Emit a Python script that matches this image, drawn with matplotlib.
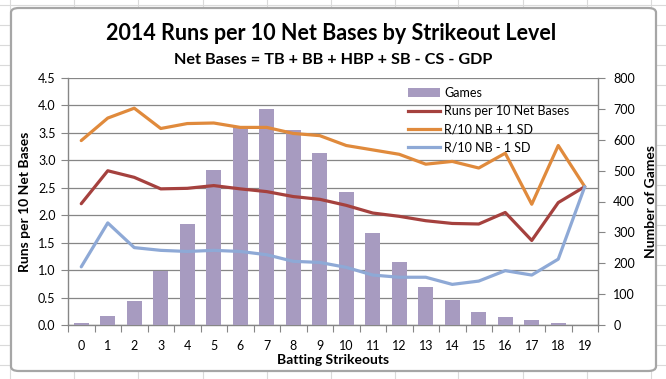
import matplotlib
matplotlib.use("Agg")
import matplotlib.pyplot as plt
from matplotlib.patches import FancyBboxPatch, Patch
from matplotlib.lines import Line2D
import numpy as np

plt.rcParams['font.family'] = ['Lato', 'DejaVu Sans']

strikeouts = list(range(20))
games = [5, 29, 79, 175, 328, 503, 643, 701, 633, 558,
         431, 298, 204, 123, 82, 42, 26, 16, 6, 0]
runs_per_10nb = [2.21, 2.81, 2.69, 2.48, 2.49, 2.54, 2.48, 2.43, 2.34, 2.29,
                 2.18, 2.04, 1.98, 1.90, 1.85, 1.84, 2.05, 1.54, 2.23, 2.52]
plus_1sd = [3.36, 3.77, 3.95, 3.58, 3.67, 3.68, 3.60, 3.60, 3.49, 3.45,
            3.27, 3.19, 3.11, 2.93, 2.98, 2.86, 3.13, 2.20, 3.27, 2.52]
minus_1sd = [1.06, 1.86, 1.41, 1.36, 1.34, 1.36, 1.34, 1.28, 1.16, 1.14,
             1.05, 0.91, 0.87, 0.87, 0.74, 0.80, 0.99, 0.91, 1.20, 2.52]

title = "2014 Runs per 10 Net Bases by Strikeout Level"
subtitle = "Net Bases = TB + BB + HBP + SB - CS - GDP"

c_bar = "#A79BC0"
c_red = "#A5413E"
c_orange = "#E08A3C"
c_blue = "#8EA9D6"
c_axis = "#868686"
c_grid = "#868686"

W, H = 666, 379
fig = plt.figure(figsize=(W / 100, H / 100), dpi=100)
fig.patch.set_facecolor("white")

# Spreadsheet cell grid behind the chart
for xv in [10, 74, 138, 203, 267, 331, 395, 458, 523, 587, 651]:
    fig.add_artist(Line2D([xv / W, xv / W], [0, 1], color="#DADADA", lw=0.8, zorder=-3))
for yv in np.arange(5, H, 20):
    fig.add_artist(Line2D([0, 1], [1 - yv / H, 1 - yv / H], color="#DADADA", lw=0.8, zorder=-3))

# Chart area
box = FancyBboxPatch((11 / W, 1 - 371 / H), (656 - 11) / W, (371 - 8) / H,
                     boxstyle="round,pad=0,rounding_size=0.012",
                     transform=fig.transFigure, facecolor="white",
                     edgecolor="#A6A6A6", lw=1.6, zorder=-2)
fig.add_artist(box)

rect = [68 / W, 1 - 325 / H, 530 / W, 247 / H]
ax = fig.add_axes(rect)
ax.patch.set_visible(False)
ax2 = ax.twinx()
ax3 = ax.twinx()
ax2.patch.set_visible(False)
ax3.patch.set_visible(False)

x = np.array(strikeouts)

# grid on left axis
ax.set_xlim(-0.5, 19.5)
ax.set_ylim(0, 4.5)
ax.set_yticks(np.arange(0, 4.51, 0.5))
ax.set_yticklabels([f"{v:.1f}" for v in np.arange(0, 4.51, 0.5)])
ax.yaxis.grid(True, color=c_grid, lw=0.9)
ax.set_axisbelow(True)

# bars on right axis
ax2.bar(x, games, width=0.57, color=c_bar, zorder=2)
ax2.set_ylim(0, 800)
ax2.set_yticks(range(0, 801, 100))

# lines on left scale
ax3.set_ylim(0, 4.5)
ax3.plot(x, runs_per_10nb, color=c_red, lw=2.3, solid_capstyle="round")
ax3.plot(x, plus_1sd, color=c_orange, lw=2.3, solid_capstyle="round")
ax3.plot(x, minus_1sd, color=c_blue, lw=2.3, solid_capstyle="round")
ax3.set_yticks([])
for s in ax3.spines.values():
    s.set_visible(False)

for a in (ax, ax2):
    for s in a.spines.values():
        s.set_visible(False)
ax.spines['left'].set_visible(True)
ax.spines['bottom'].set_visible(True)
ax2.spines['right'].set_visible(True)
for s in (ax.spines['left'], ax.spines['bottom'], ax2.spines['right']):
    s.set_color(c_axis)
    s.set_linewidth(1.0)

# x ticks: marks at category boundaries, labels at centers
ax.set_xticks(np.arange(-0.5, 19.6, 1.0))
ax.set_xticklabels([])
ax.set_xticks(x, minor=True)
ax.set_xticklabels([str(v) for v in strikeouts], minor=True)
ax.tick_params(axis='x', which='major', length=5, color=c_axis, direction='out')
ax.tick_params(axis='x', which='minor', length=0, pad=11, labelsize=9)
ax.tick_params(axis='y', length=5, color=c_axis, pad=4, labelsize=9)
ax2.tick_params(axis='y', length=5, color=c_axis, pad=6, labelsize=9)

ax.set_ylabel("Runs per 10 Net Bases", fontsize=10, fontweight="bold", labelpad=5)
ax2.set_ylabel("Number of Games", fontsize=10, fontweight="bold", labelpad=7)
ax.set_xlabel("Batting Strikeouts", fontsize=10, fontweight="bold", labelpad=1)

fig.text(331 / W, 1 - 33 / H, title, ha="center", va="center",
         fontsize=15.5, fontweight="bold")
fig.text(333 / W, 1 - 60 / H, subtitle, ha="center", va="center",
         fontsize=11.7, fontweight="bold")

handles = [Patch(facecolor=c_bar, edgecolor="none"),
           Line2D([], [], color=c_red, lw=2.3),
           Line2D([], [], color=c_orange, lw=2.3),
           Line2D([], [], color=c_blue, lw=2.3)]
labels = ["Games", "Runs per 10 Net Bases", "R/10 NB + 1 SD", "R/10 NB - 1 SD"]
ax3.legend(handles, labels, loc="upper left", bbox_to_anchor=(0.632, 0.985),
           frameon=False, fontsize=9, handlelength=2.6, handletextpad=0.3,
           labelspacing=0.5, borderaxespad=0)

fig.savefig("out.png", dpi=100)
